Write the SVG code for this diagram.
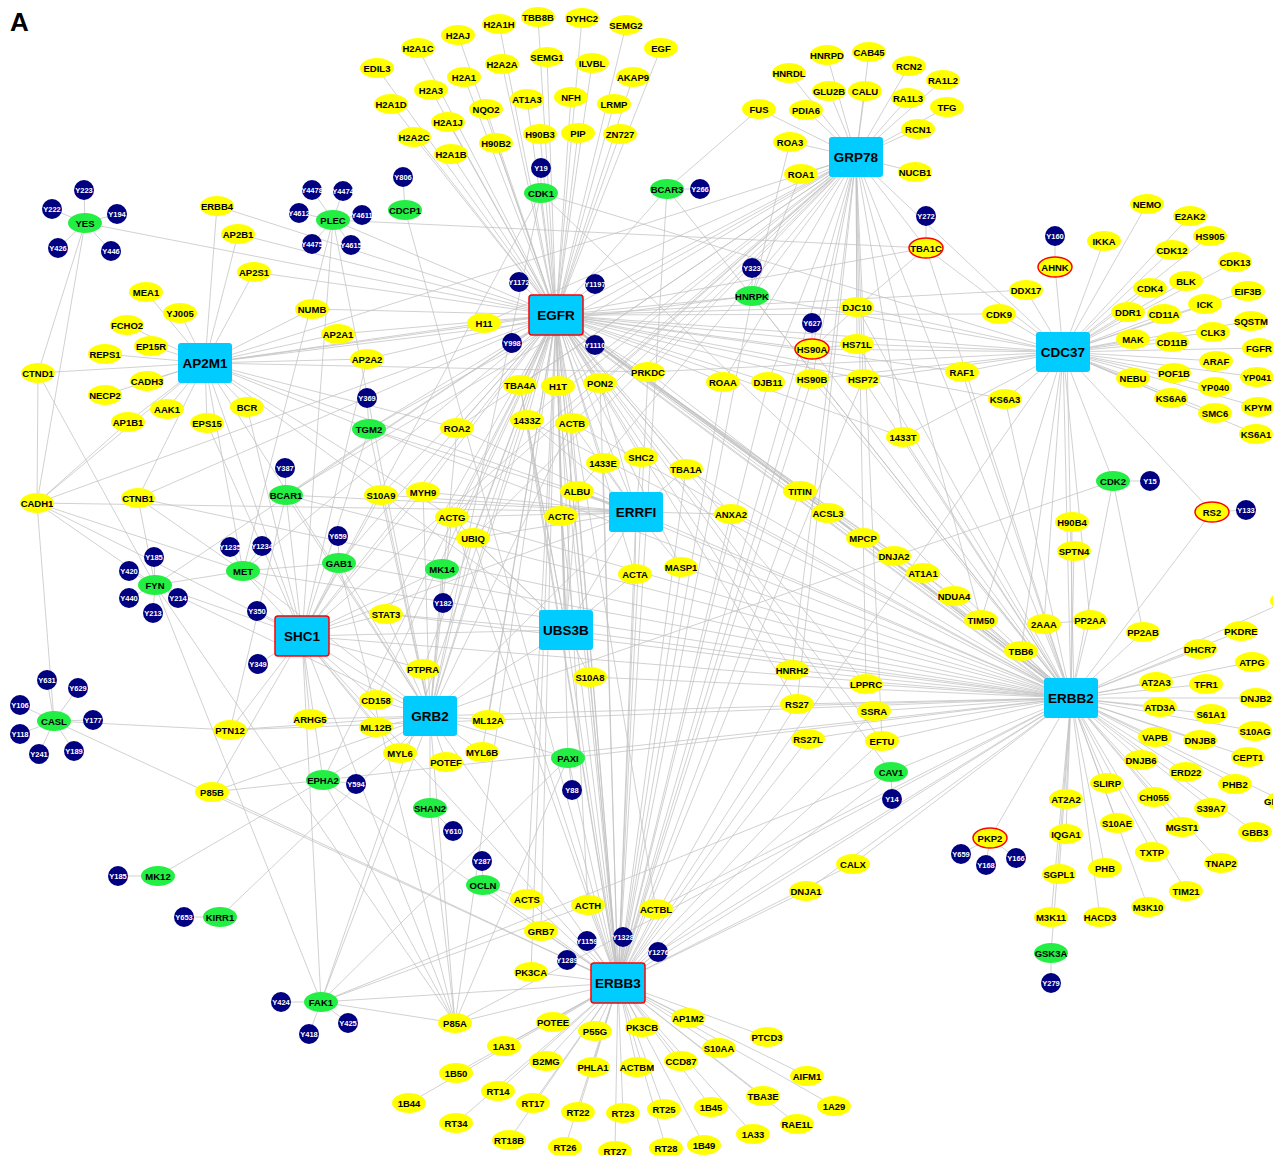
<svg xmlns="http://www.w3.org/2000/svg" width="1273" height="1155" viewBox="0 0 1273 1155">
<style>
.e{stroke:#c2c2c2;stroke-width:0.75;fill:none}
.y{fill:#ffff00}
.g{fill:#22ee44}
.b{fill:#000080}
.h{fill:#00ccff}
.r{stroke:#ff0000;stroke-width:1.5}
text{font-family:"Liberation Sans",Arial,sans-serif;font-weight:bold;text-anchor:middle;dominant-baseline:central}
.t{font-size:9.5px;fill:#000}
.tb{font-size:7.5px;fill:#fff}
.th{font-size:13.5px;fill:#000}
</style>
<rect width="1273" height="1155" fill="#fff"/>
<text x="10" y="22" style="font-size:26px;text-anchor:start;fill:#000">A</text>
<g id="connectors" class="e">
<path d="M556 315L499 24M556 315L538 17M556 315L582 18M556 315L626 25M556 315L458 35M556 315L418 48M556 315L377 68M556 315L502 64M556 315L547 57M556 315L592 63M556 315L661 48M556 315L464 77M556 315L633 77M556 315L431 90M556 315L486 109M556 315L527 99M556 315L571 97M556 315L614 104M556 315L391 104M556 315L448 122M556 315L540 134M556 315L578 133M556 315L620 134M556 315L414 137M556 315L496 143M556 315L451 154"/>
<path d="M556 315L519 282M556 315L595 284M556 315L512 343M556 315L595 345M556 315L541 193M556 315L484 323M556 315L312 309M556 315L338 334M556 315L367 359M556 315L217 206M556 315L238 234M556 315L254 272M556 315L85 223M556 315L333 220M556 315L520 385M556 315L558 386M556 315L600 383M556 315L648 372M556 315L527 420M556 315L572 423M556 315L457 428M556 315L369 429M556 315L286 495M556 315L603 463M556 315L641 457M556 315L686 469M556 315L577 491M556 315L561 516M556 315L452 517M556 315L473 538M556 315L442 569M556 315L636 512M556 315L566 630M556 315L302 636M556 315L430 716M556 315L618 983M556 315L752 296M556 315L812 349M556 315L926 248M556 315L723 382M556 315L768 382M556 315L863 379M556 315L812 379M556 315L731 514M556 315L681 567M556 315L635 574M556 315L568 758M556 315L527 899M556 315L588 905M556 315L656 909M556 315L891 772M556 315L386 614M556 315L339 563M556 315L243 571M556 315L381 495M556 315L423 492M556 315L205 363M556 315L155 585M556 315L667 189M556 315L1063 352M556 315L856 157M556 315L423 669M556 315L323 780M556 315L590 677M556 315L531 972M556 315L541 931M556 315L857 344M556 315L903 437M556 315L962 372M556 315L1005 399M556 315L376 700M556 315L792 670M556 315L797 704M556 315L866 684M556 315L882 741M556 315L138 498M556 315L37 503M556 315L1026 290M556 315L999 314M556 315L857 307M556 315L455 1023M556 315L321 1002M556 315L488 720M556 315L482 752"/>
<path d="M556 315L1071 698M558 312L1073 695M554 318L1069 701M560 313L1075 696M553 316L1068 699M556 315L800 491M556 315L828 513M556 315L863 538M556 315L894 556M556 315L923 573M556 315L954 596"/>
<path d="M856 157L827 55M856 157L869 52M856 157L789 73M856 157L829 91M856 157L865 91M856 157L909 66M856 157L943 80M856 157L908 98M856 157L947 107M856 157L759 109M856 157L806 110M856 157L918 129M856 157L790 142M856 157L801 174M856 157L915 172M856 157L926 248M856 157L857 307M856 157L857 344M856 157L863 379M856 157L812 379M856 157L812 349M856 157L752 296M856 157L768 382M856 157L723 382M856 157L648 372M856 157L558 386M856 157L520 385M856 157L572 423M856 157L527 420M856 157L457 428M856 157L577 491M856 157L1071 698M856 157L1063 352M856 157L903 437M856 157L618 983M856 157L866 684M856 157L792 670M856 157L981 620M856 157L473 538M856 157L452 517M856 157L205 363M856 157L302 636M856 157L369 429M856 157L484 323M856 157L286 495M856 157L797 704M856 157L882 741M856 157L600 383"/>
<path d="M1063 352L1055 267M1063 352L1104 241M1063 352L1147 204M1063 352L1190 216M1063 352L1210 236M1063 352L1172 250M1063 352L1235 262M1063 352L1026 290M1063 352L1150 288M1063 352L1186 281M1063 352L1248 291M1063 352L1128 312M1063 352L1164 314M1063 352L1205 304M1063 352L999 314M1063 352L1251 321M1063 352L1213 332M1063 352L1133 339M1063 352L1172 342M1063 352L1259 348M1063 352L1216 361M1063 352L1257 377M1063 352L1133 378M1063 352L1174 373M1063 352L1215 387M1063 352L1258 407M1063 352L1171 398M1063 352L1215 413M1063 352L1256 434M1063 352L962 372M1063 352L1005 399M1063 352L863 379M1063 352L812 379M1063 352L857 344M1063 352L812 349M1063 352L857 307M1063 352L1071 698M1067 352L1074 698M1063 352L1113 481M1063 352L1021 651M1063 352L1044 624M1063 352L1090 620M1063 352L903 437M1063 352L926 248M1063 352L541 193M1063 352L618 983M1063 352L1212 512M1063 352L981 620M1063 352L752 296M1063 352L648 372"/>
<path d="M1071 698L1072 522M1071 698L1074 551M1071 698L1044 624M1071 698L1090 620M1071 698L1143 632M1071 698L1021 651M1071 698L1241 631M1071 698L1200 649M1071 698L1252 662M1071 698L1156 682M1071 698L1206 684M1071 698L1256 698M1071 698L1160 707M1071 698L1211 714M1071 698L1255 731M1071 698L1155 737M1071 698L1200 740M1071 698L1248 757M1071 698L1141 760M1071 698L1186 772M1071 698L1235 784M1071 698L1283 801M1071 698L1107 783M1071 698L1066 799M1071 698L1154 797M1071 698L1211 808M1071 698L1117 823M1071 698L1182 827M1071 698L1255 832M1071 698L1066 834M1071 698L1152 852M1071 698L1221 863M1071 698L1105 868M1071 698L1059 874M1071 698L1186 891M1071 698L1148 907M1071 698L1051 917M1071 698L1100 917M1071 698L1051 953M1071 698L990 838M1071 698L1113 481M1071 698L1212 512M1071 698L1287 601M1071 698L981 620M1071 698L954 596M1071 698L923 573M1071 698L894 556M1071 698L863 538M1071 698L828 513M1071 698L800 491M1071 698L866 684M1071 698L797 704M1071 698L874 711M1071 698L882 741M1071 698L792 670M1071 698L808 739M1071 698L891 772M1071 698L853 864M1071 698L806 891M1071 698L618 983M1071 698L566 630M1071 698L430 716M1071 698L302 636M1071 698L636 512M1071 698L903 437M1071 698L863 379M1071 698L812 379M1071 698L857 307M1071 698L857 344M1071 698L1005 399M1071 698L962 372M1071 698L752 296M1071 698L812 349M1071 698L926 248M1071 698L572 423M1071 698L648 372M1071 698L681 567M1071 698L731 514M1071 698L590 677M1071 698L568 758M1071 698L527 420M1071 698L452 517M1071 698L686 469M1071 698L577 491M1071 698L243 571M1071 698L339 563M1071 698L286 495M1071 698L369 429M1071 698L386 614M1071 698L138 498M1071 698L323 780M1071 698L658 952M1071 698L656 909M1071 698L541 193M1071 698L667 189M1071 698L455 1023M1071 698L230 730"/>
<path d="M618 983L553 1022M618 983L595 1031M618 983L642 1027M618 983L688 1018M618 983L767 1037M618 983L504 1046M618 983L546 1061M618 983L593 1067M618 983L637 1067M618 983L681 1061M618 983L719 1048M618 983L807 1076M618 983L456 1073M618 983L498 1091M618 983L533 1103M618 983L578 1112M618 983L623 1113M618 983L664 1109M618 983L711 1107M618 983L763 1096M618 983L797 1124M618 983L834 1106M618 983L753 1134M618 983L409 1103M618 983L456 1123M618 983L509 1140M618 983L565 1147M618 983L615 1151M618 983L666 1148M618 983L704 1145M618 983L531 972M618 983L455 1023M618 983L321 1002M618 983L541 931M618 983L587 941M618 983L623 937M618 983L567 960M618 983L658 952M618 983L527 899M618 983L588 905M618 983L656 909M618 983L568 758M618 983L430 716M618 983L302 636M618 983L891 772M618 983L806 891M618 983L853 864M618 983L566 630M618 983L636 512M618 983L863 379M618 983L752 296M618 983L667 189M618 983L212 792M618 983L452 517M618 983L572 423M618 983L561 516M618 983L577 491M618 983L527 420M618 983L603 463M618 983L686 469M618 983L590 677M618 983L473 538M618 983L812 379M618 983L812 349M618 983L723 382M618 983L648 372M618 983L681 567M618 983L731 514M618 983L797 704M618 983L882 741M618 983L54 721M618 983L483 885M618 983L405 210M618 983L323 780M618 983L635 574M618 983L558 386M618 983L600 383M618 983L520 385M618 983L808 739M618 983L792 670M618 983L874 711M618 983L800 491M618 983L768 382"/>
<path d="M205 363L217 206M205 363L238 234M205 363L254 272M205 363L146 292M205 363L180 313M205 363L127 325M205 363L151 346M205 363L105 354M205 363L38 373M205 363L147 381M205 363L105 395M205 363L167 409M205 363L128 422M205 363L207 423M205 363L247 407M205 363L312 309M205 363L338 334M205 363L367 359M205 363L484 323M205 363L302 636M205 363L430 716M205 363L369 429M205 363L457 428M205 363L636 512M205 363L566 630M205 363L138 498M205 363L452 517M205 363L37 503M205 363L243 571M205 363L752 296M205 363L648 372"/>
<path d="M302 636L257 611M302 636L258 664M302 636L230 730M302 636L310 719M302 636L323 780M302 636L321 1002M302 636L430 716M302 636L243 571M302 636L339 563M302 636L286 495M302 636L369 429M302 636L386 614M302 636L376 700M302 636L155 585M302 636L636 512M302 636L566 630M302 636L423 669M302 636L442 569M302 636L541 193M302 636L455 1023M302 636L212 792M302 636L423 492M302 636L381 495M302 636L376 727M302 636L400 753M302 636L333 220M302 636L367 359M302 636L247 407M302 636L207 423M302 636L37 503"/>
<path d="M430 716L376 700M430 716L376 727M430 716L400 753M430 716L446 762M430 716L482 752M430 716L488 720M430 716L423 669M430 716L386 614M430 716L442 569M430 716L339 563M430 716L452 517M430 716L423 492M430 716L381 495M430 716L323 780M430 716L430 808M430 716L455 1023M430 716L212 792M430 716L321 1002M430 716L243 571M430 716L568 758M430 716L566 630M430 716L636 512M430 716L286 495M430 716L310 719M430 716L369 429M430 716L457 428M430 716L541 193M430 716L220 917M430 716L1113 481M430 716L473 538M430 716L230 730M430 716L527 420M430 716L572 423M430 716L333 220M430 716L155 585"/>
<path d="M636 512L603 463M636 512L641 457M636 512L577 491M636 512L561 516M636 512L635 574M636 512L731 514M636 512L686 469M636 512L681 567M636 512L452 517M636 512L572 423M636 512L527 420M636 512L473 538M636 512L600 383M636 512L37 503M636 512L369 429M636 512L457 428M636 512L381 495M636 512L423 492M636 512L566 630M636 512L286 495"/>
<path d="M566 630L473 538M566 630L572 423M566 630L577 491M566 630L590 677M566 630L561 516M566 630L527 420M566 630L635 574M566 630L558 386M566 630L452 517M566 630L386 614M566 630L520 385"/>
<path d="M541 168L541 193M403 177L405 210M333 220L312 190M333 220L343 191M333 220L299 213M333 220L362 215M333 220L312 244M333 220L351 245M85 223L84 190M85 223L52 209M85 223L117 214M85 223L58 248M85 223L111 251M667 189L700 189M926 248L926 216M752 296L752 268M812 349L812 323M1055 267L1055 236M1113 481L1150 481M1212 512L1246 510M369 429L367 398M286 495L285 468M155 585L154 557M155 585L129 571M155 585L129 598M155 585L153 613M155 585L178 598M243 571L230 547M243 571L262 546M339 563L338 536M442 569L443 603M54 721L47 680M54 721L78 688M54 721L20 705M54 721L93 720M54 721L20 734M54 721L39 754M54 721L74 751M323 780L356 784M568 758L572 790M430 808L453 831M483 885L482 861M158 876L118 876M220 917L184 917M321 1002L281 1002M321 1002L309 1034M321 1002L348 1023M891 772L892 799M990 838L961 854M990 838L986 865M990 838L1016 858M1051 953L1051 983"/>
<path d="M85 223L38 373M85 223L37 503M333 220L926 248M333 220L243 571M38 373L37 503M38 373L155 585M37 503L128 422M37 503L54 721M37 503L243 571M37 503L155 585M138 498L155 585M138 498L243 571M155 585L243 571M155 585L321 1002M155 585L455 1023M339 563L455 1023M339 563L243 571M286 495L230 730M230 730L54 721M212 792L323 780M158 876L323 780M323 780L455 1023M321 1002L568 758M321 1002L455 1023M321 1002L891 772M321 1002L588 905M430 808L455 1023M568 758L455 1023M483 885L527 899M667 189L759 109M1113 481L1143 632M1044 624L1090 620M926 248L857 307M812 349L857 307M812 349L857 344M790 142L752 296M801 174L752 296"/>
</g>
<g id="nodes">
<g id="n-EGFR"><rect class="h r" x="529" y="295" width="54" height="40" rx="3"/><text class="th" x="556" y="315">EGFR</text></g>
<g id="n-GRP78"><rect class="h" x="829" y="137" width="54" height="40" rx="3"/><text class="th" x="856" y="157">GRP78</text></g>
<g id="n-AP2M1"><rect class="h" x="178" y="343" width="54" height="40" rx="3"/><text class="th" x="205" y="363">AP2M1</text></g>
<g id="n-CDC37"><rect class="h" x="1036" y="332" width="54" height="40" rx="3"/><text class="th" x="1063" y="352">CDC37</text></g>
<g id="n-ERRFI"><rect class="h" x="609" y="492" width="54" height="40" rx="3"/><text class="th" x="636" y="512">ERRFI</text></g>
<g id="n-UBS3B"><rect class="h" x="539" y="610" width="54" height="40" rx="3"/><text class="th" x="566" y="630">UBS3B</text></g>
<g id="n-SHC1"><rect class="h r" x="275" y="616" width="54" height="40" rx="3"/><text class="th" x="302" y="636">SHC1</text></g>
<g id="n-GRB2"><rect class="h" x="403" y="696" width="54" height="40" rx="3"/><text class="th" x="430" y="716">GRB2</text></g>
<g id="n-ERBB2"><rect class="h" x="1044" y="678" width="54" height="40" rx="3"/><text class="th" x="1071" y="698">ERBB2</text></g>
<g id="n-ERBB3"><rect class="h r" x="591" y="963" width="54" height="40" rx="3"/><text class="th" x="618" y="983">ERBB3</text></g>

<g id="n-H2A1H"><ellipse class="y" cx="499" cy="24" rx="17" ry="10"/><text class="t" x="499" y="24">H2A1H</text></g>
<g id="n-TBB8B"><ellipse class="y" cx="538" cy="17" rx="17" ry="10"/><text class="t" x="538" y="17">TBB8B</text></g>
<g id="n-DYHC2"><ellipse class="y" cx="582" cy="18" rx="17" ry="10"/><text class="t" x="582" y="18">DYHC2</text></g>
<g id="n-SEMG2"><ellipse class="y" cx="626" cy="25" rx="17" ry="10"/><text class="t" x="626" y="25">SEMG2</text></g>
<g id="n-H2AJ"><ellipse class="y" cx="458" cy="35" rx="17" ry="10"/><text class="t" x="458" y="35">H2AJ</text></g>
<g id="n-H2A1C"><ellipse class="y" cx="418" cy="48" rx="17" ry="10"/><text class="t" x="418" y="48">H2A1C</text></g>
<g id="n-EDIL3"><ellipse class="y" cx="377" cy="68" rx="17" ry="10"/><text class="t" x="377" y="68">EDIL3</text></g>
<g id="n-H2A2A"><ellipse class="y" cx="502" cy="64" rx="17" ry="10"/><text class="t" x="502" y="64">H2A2A</text></g>
<g id="n-SEMG1"><ellipse class="y" cx="547" cy="57" rx="17" ry="10"/><text class="t" x="547" y="57">SEMG1</text></g>
<g id="n-ILVBL"><ellipse class="y" cx="592" cy="63" rx="17" ry="10"/><text class="t" x="592" y="63">ILVBL</text></g>
<g id="n-EGF"><ellipse class="y" cx="661" cy="48" rx="17" ry="10"/><text class="t" x="661" y="48">EGF</text></g>
<g id="n-H2A1"><ellipse class="y" cx="464" cy="77" rx="17" ry="10"/><text class="t" x="464" y="77">H2A1</text></g>
<g id="n-AKAP9"><ellipse class="y" cx="633" cy="77" rx="17" ry="10"/><text class="t" x="633" y="77">AKAP9</text></g>
<g id="n-H2A3"><ellipse class="y" cx="431" cy="90" rx="17" ry="10"/><text class="t" x="431" y="90">H2A3</text></g>
<g id="n-NQO2"><ellipse class="y" cx="486" cy="109" rx="17" ry="10"/><text class="t" x="486" y="109">NQO2</text></g>
<g id="n-AT1A3"><ellipse class="y" cx="527" cy="99" rx="17" ry="10"/><text class="t" x="527" y="99">AT1A3</text></g>
<g id="n-NFH"><ellipse class="y" cx="571" cy="97" rx="17" ry="10"/><text class="t" x="571" y="97">NFH</text></g>
<g id="n-LRMP"><ellipse class="y" cx="614" cy="104" rx="17" ry="10"/><text class="t" x="614" y="104">LRMP</text></g>
<g id="n-H2A1D"><ellipse class="y" cx="391" cy="104" rx="17" ry="10"/><text class="t" x="391" y="104">H2A1D</text></g>
<g id="n-H2A1J"><ellipse class="y" cx="448" cy="122" rx="17" ry="10"/><text class="t" x="448" y="122">H2A1J</text></g>
<g id="n-H90B3"><ellipse class="y" cx="540" cy="134" rx="17" ry="10"/><text class="t" x="540" y="134">H90B3</text></g>
<g id="n-PIP"><ellipse class="y" cx="578" cy="133" rx="17" ry="10"/><text class="t" x="578" y="133">PIP</text></g>
<g id="n-ZN727"><ellipse class="y" cx="620" cy="134" rx="17" ry="10"/><text class="t" x="620" y="134">ZN727</text></g>
<g id="n-H2A2C"><ellipse class="y" cx="414" cy="137" rx="17" ry="10"/><text class="t" x="414" y="137">H2A2C</text></g>
<g id="n-H90B2"><ellipse class="y" cx="496" cy="143" rx="17" ry="10"/><text class="t" x="496" y="143">H90B2</text></g>
<g id="n-H2A1B"><ellipse class="y" cx="451" cy="154" rx="17" ry="10"/><text class="t" x="451" y="154">H2A1B</text></g>

<g id="n-ERBB4"><ellipse class="y" cx="217" cy="206" rx="17" ry="10"/><text class="t" x="217" y="206">ERBB4</text></g>
<g id="n-AP2B1"><ellipse class="y" cx="238" cy="234" rx="17" ry="10"/><text class="t" x="238" y="234">AP2B1</text></g>
<g id="n-AP2S1"><ellipse class="y" cx="254" cy="272" rx="17" ry="10"/><text class="t" x="254" y="272">AP2S1</text></g>
<g id="n-MEA1"><ellipse class="y" cx="146" cy="292" rx="17" ry="10"/><text class="t" x="146" y="292">MEA1</text></g>
<g id="n-YJ005"><ellipse class="y" cx="180" cy="313" rx="17" ry="10"/><text class="t" x="180" y="313">YJ005</text></g>
<g id="n-FCHO2"><ellipse class="y" cx="127" cy="325" rx="17" ry="10"/><text class="t" x="127" y="325">FCHO2</text></g>
<g id="n-EP15R"><ellipse class="y" cx="151" cy="346" rx="17" ry="10"/><text class="t" x="151" y="346">EP15R</text></g>
<g id="n-REPS1"><ellipse class="y" cx="105" cy="354" rx="17" ry="10"/><text class="t" x="105" y="354">REPS1</text></g>
<g id="n-CTND1"><ellipse class="y" cx="38" cy="373" rx="17" ry="10"/><text class="t" x="38" y="373">CTND1</text></g>
<g id="n-CADH3"><ellipse class="y" cx="147" cy="381" rx="17" ry="10"/><text class="t" x="147" y="381">CADH3</text></g>
<g id="n-NECP2"><ellipse class="y" cx="105" cy="395" rx="17" ry="10"/><text class="t" x="105" y="395">NECP2</text></g>
<g id="n-AAK1"><ellipse class="y" cx="167" cy="409" rx="17" ry="10"/><text class="t" x="167" y="409">AAK1</text></g>
<g id="n-AP1B1"><ellipse class="y" cx="128" cy="422" rx="17" ry="10"/><text class="t" x="128" y="422">AP1B1</text></g>
<g id="n-EPS15"><ellipse class="y" cx="207" cy="423" rx="17" ry="10"/><text class="t" x="207" y="423">EPS15</text></g>
<g id="n-BCR"><ellipse class="y" cx="247" cy="407" rx="17" ry="10"/><text class="t" x="247" y="407">BCR</text></g>
<g id="n-NUMB"><ellipse class="y" cx="312" cy="309" rx="17" ry="10"/><text class="t" x="312" y="309">NUMB</text></g>
<g id="n-AP2A1"><ellipse class="y" cx="338" cy="334" rx="17" ry="10"/><text class="t" x="338" y="334">AP2A1</text></g>
<g id="n-AP2A2"><ellipse class="y" cx="367" cy="359" rx="17" ry="10"/><text class="t" x="367" y="359">AP2A2</text></g>
<g id="n-H11"><ellipse class="y" cx="484" cy="323" rx="17" ry="10"/><text class="t" x="484" y="323">H11</text></g>

<g id="n-TBA4A"><ellipse class="y" cx="520" cy="385" rx="17" ry="10"/><text class="t" x="520" y="385">TBA4A</text></g>
<g id="n-H1T"><ellipse class="y" cx="558" cy="386" rx="17" ry="10"/><text class="t" x="558" y="386">H1T</text></g>
<g id="n-PON2"><ellipse class="y" cx="600" cy="383" rx="17" ry="10"/><text class="t" x="600" y="383">PON2</text></g>
<g id="n-PRKDC"><ellipse class="y" cx="648" cy="372" rx="17" ry="10"/><text class="t" x="648" y="372">PRKDC</text></g>
<g id="n-ROAA"><ellipse class="y" cx="723" cy="382" rx="17" ry="10"/><text class="t" x="723" y="382">ROAA</text></g>
<g id="n-DJB11"><ellipse class="y" cx="768" cy="382" rx="17" ry="10"/><text class="t" x="768" y="382">DJB11</text></g>
<g id="n-HS90B"><ellipse class="y" cx="812" cy="379" rx="17" ry="10"/><text class="t" x="812" y="379">HS90B</text></g>
<g id="n-HSP72"><ellipse class="y" cx="863" cy="379" rx="17" ry="10"/><text class="t" x="863" y="379">HSP72</text></g>
<g id="n-RAF1"><ellipse class="y" cx="962" cy="372" rx="17" ry="10"/><text class="t" x="962" y="372">RAF1</text></g>
<g id="n-ROA2"><ellipse class="y" cx="457" cy="428" rx="17" ry="10"/><text class="t" x="457" y="428">ROA2</text></g>
<g id="n-1433Z"><ellipse class="y" cx="527" cy="420" rx="17" ry="10"/><text class="t" x="527" y="420">1433Z</text></g>
<g id="n-ACTB"><ellipse class="y" cx="572" cy="423" rx="17" ry="10"/><text class="t" x="572" y="423">ACTB</text></g>
<g id="n-1433E"><ellipse class="y" cx="603" cy="463" rx="17" ry="10"/><text class="t" x="603" y="463">1433E</text></g>
<g id="n-SHC2"><ellipse class="y" cx="641" cy="457" rx="17" ry="10"/><text class="t" x="641" y="457">SHC2</text></g>
<g id="n-TBA1A"><ellipse class="y" cx="686" cy="469" rx="17" ry="10"/><text class="t" x="686" y="469">TBA1A</text></g>
<g id="n-ALBU"><ellipse class="y" cx="577" cy="491" rx="17" ry="10"/><text class="t" x="577" y="491">ALBU</text></g>
<g id="n-ACTC"><ellipse class="y" cx="561" cy="516" rx="17" ry="10"/><text class="t" x="561" y="516">ACTC</text></g>
<g id="n-ACTG"><ellipse class="y" cx="452" cy="517" rx="17" ry="10"/><text class="t" x="452" y="517">ACTG</text></g>
<g id="n-MYH9"><ellipse class="y" cx="423" cy="492" rx="17" ry="10"/><text class="t" x="423" y="492">MYH9</text></g>
<g id="n-S10A9"><ellipse class="y" cx="381" cy="495" rx="17" ry="10"/><text class="t" x="381" y="495">S10A9</text></g>
<g id="n-UBIQ"><ellipse class="y" cx="473" cy="538" rx="17" ry="10"/><text class="t" x="473" y="538">UBIQ</text></g>
<g id="n-STAT3"><ellipse class="y" cx="386" cy="614" rx="17" ry="10"/><text class="t" x="386" y="614">STAT3</text></g>
<g id="n-PTPRA"><ellipse class="y" cx="423" cy="669" rx="17" ry="10"/><text class="t" x="423" y="669">PTPRA</text></g>
<g id="n-S10A8"><ellipse class="y" cx="590" cy="677" rx="17" ry="10"/><text class="t" x="590" y="677">S10A8</text></g>
<g id="n-ACTA"><ellipse class="y" cx="635" cy="574" rx="17" ry="10"/><text class="t" x="635" y="574">ACTA</text></g>
<g id="n-MASP1"><ellipse class="y" cx="681" cy="567" rx="17" ry="10"/><text class="t" x="681" y="567">MASP1</text></g>
<g id="n-ANXA2"><ellipse class="y" cx="731" cy="514" rx="17" ry="10"/><text class="t" x="731" y="514">ANXA2</text></g>
<g id="n-CADH1"><ellipse class="y" cx="37" cy="503" rx="17" ry="10"/><text class="t" x="37" y="503">CADH1</text></g>
<g id="n-CTNB1"><ellipse class="y" cx="138" cy="498" rx="17" ry="10"/><text class="t" x="138" y="498">CTNB1</text></g>
<g id="n-PTN12"><ellipse class="y" cx="230" cy="730" rx="17" ry="10"/><text class="t" x="230" y="730">PTN12</text></g>
<g id="n-ARHG5"><ellipse class="y" cx="310" cy="719" rx="17" ry="10"/><text class="t" x="310" y="719">ARHG5</text></g>
<g id="n-CD158"><ellipse class="y" cx="376" cy="700" rx="17" ry="10"/><text class="t" x="376" y="700">CD158</text></g>
<g id="n-ML12B"><ellipse class="y" cx="376" cy="727" rx="17" ry="10"/><text class="t" x="376" y="727">ML12B</text></g>
<g id="n-MYL6"><ellipse class="y" cx="400" cy="753" rx="17" ry="10"/><text class="t" x="400" y="753">MYL6</text></g>
<g id="n-POTEF"><ellipse class="y" cx="446" cy="762" rx="17" ry="10"/><text class="t" x="446" y="762">POTEF</text></g>
<g id="n-MYL6B"><ellipse class="y" cx="482" cy="752" rx="17" ry="10"/><text class="t" x="482" y="752">MYL6B</text></g>
<g id="n-ML12A"><ellipse class="y" cx="488" cy="720" rx="17" ry="10"/><text class="t" x="488" y="720">ML12A</text></g>
<g id="n-P85B"><ellipse class="y" cx="212" cy="792" rx="17" ry="10"/><text class="t" x="212" y="792">P85B</text></g>
<g id="n-ACTS"><ellipse class="y" cx="527" cy="899" rx="17" ry="10"/><text class="t" x="527" y="899">ACTS</text></g>
<g id="n-ACTH"><ellipse class="y" cx="588" cy="905" rx="17" ry="10"/><text class="t" x="588" y="905">ACTH</text></g>
<g id="n-ACTBL"><ellipse class="y" cx="656" cy="909" rx="17" ry="10"/><text class="t" x="656" y="909">ACTBL</text></g>
<g id="n-GRB7"><ellipse class="y" cx="541" cy="931" rx="17" ry="10"/><text class="t" x="541" y="931">GRB7</text></g>
<g id="n-PK3CA"><ellipse class="y" cx="531" cy="972" rx="17" ry="10"/><text class="t" x="531" y="972">PK3CA</text></g>
<g id="n-P85A"><ellipse class="y" cx="455" cy="1023" rx="17" ry="10"/><text class="t" x="455" y="1023">P85A</text></g>

<g id="n-POTEE"><ellipse class="y" cx="553" cy="1022" rx="17" ry="10"/><text class="t" x="553" y="1022">POTEE</text></g>
<g id="n-P55G"><ellipse class="y" cx="595" cy="1031" rx="17" ry="10"/><text class="t" x="595" y="1031">P55G</text></g>
<g id="n-PK3CB"><ellipse class="y" cx="642" cy="1027" rx="17" ry="10"/><text class="t" x="642" y="1027">PK3CB</text></g>
<g id="n-AP1M2"><ellipse class="y" cx="688" cy="1018" rx="17" ry="10"/><text class="t" x="688" y="1018">AP1M2</text></g>
<g id="n-PTCD3"><ellipse class="y" cx="767" cy="1037" rx="17" ry="10"/><text class="t" x="767" y="1037">PTCD3</text></g>
<g id="n-1A31"><ellipse class="y" cx="504" cy="1046" rx="17" ry="10"/><text class="t" x="504" y="1046">1A31</text></g>
<g id="n-B2MG"><ellipse class="y" cx="546" cy="1061" rx="17" ry="10"/><text class="t" x="546" y="1061">B2MG</text></g>
<g id="n-PHLA1"><ellipse class="y" cx="593" cy="1067" rx="17" ry="10"/><text class="t" x="593" y="1067">PHLA1</text></g>
<g id="n-ACTBM"><ellipse class="y" cx="637" cy="1067" rx="17" ry="10"/><text class="t" x="637" y="1067">ACTBM</text></g>
<g id="n-CCD87"><ellipse class="y" cx="681" cy="1061" rx="17" ry="10"/><text class="t" x="681" y="1061">CCD87</text></g>
<g id="n-S10AA"><ellipse class="y" cx="719" cy="1048" rx="17" ry="10"/><text class="t" x="719" y="1048">S10AA</text></g>
<g id="n-AIFM1"><ellipse class="y" cx="807" cy="1076" rx="17" ry="10"/><text class="t" x="807" y="1076">AIFM1</text></g>
<g id="n-1B50"><ellipse class="y" cx="456" cy="1073" rx="17" ry="10"/><text class="t" x="456" y="1073">1B50</text></g>
<g id="n-RT14"><ellipse class="y" cx="498" cy="1091" rx="17" ry="10"/><text class="t" x="498" y="1091">RT14</text></g>
<g id="n-RT17"><ellipse class="y" cx="533" cy="1103" rx="17" ry="10"/><text class="t" x="533" y="1103">RT17</text></g>
<g id="n-RT22"><ellipse class="y" cx="578" cy="1112" rx="17" ry="10"/><text class="t" x="578" y="1112">RT22</text></g>
<g id="n-RT23"><ellipse class="y" cx="623" cy="1113" rx="17" ry="10"/><text class="t" x="623" y="1113">RT23</text></g>
<g id="n-RT25"><ellipse class="y" cx="664" cy="1109" rx="17" ry="10"/><text class="t" x="664" y="1109">RT25</text></g>
<g id="n-1B45"><ellipse class="y" cx="711" cy="1107" rx="17" ry="10"/><text class="t" x="711" y="1107">1B45</text></g>
<g id="n-TBA3E"><ellipse class="y" cx="763" cy="1096" rx="17" ry="10"/><text class="t" x="763" y="1096">TBA3E</text></g>
<g id="n-RAE1L"><ellipse class="y" cx="797" cy="1124" rx="17" ry="10"/><text class="t" x="797" y="1124">RAE1L</text></g>
<g id="n-1A29"><ellipse class="y" cx="834" cy="1106" rx="17" ry="10"/><text class="t" x="834" y="1106">1A29</text></g>
<g id="n-1A33"><ellipse class="y" cx="753" cy="1134" rx="17" ry="10"/><text class="t" x="753" y="1134">1A33</text></g>
<g id="n-1B44"><ellipse class="y" cx="409" cy="1103" rx="17" ry="10"/><text class="t" x="409" y="1103">1B44</text></g>
<g id="n-RT34"><ellipse class="y" cx="456" cy="1123" rx="17" ry="10"/><text class="t" x="456" y="1123">RT34</text></g>
<g id="n-RT18B"><ellipse class="y" cx="509" cy="1140" rx="17" ry="10"/><text class="t" x="509" y="1140">RT18B</text></g>
<g id="n-RT26"><ellipse class="y" cx="565" cy="1147" rx="17" ry="10"/><text class="t" x="565" y="1147">RT26</text></g>
<g id="n-RT27"><ellipse class="y" cx="615" cy="1151" rx="17" ry="10"/><text class="t" x="615" y="1151">RT27</text></g>
<g id="n-RT28"><ellipse class="y" cx="666" cy="1148" rx="17" ry="10"/><text class="t" x="666" y="1148">RT28</text></g>
<g id="n-1B49"><ellipse class="y" cx="704" cy="1145" rx="17" ry="10"/><text class="t" x="704" y="1145">1B49</text></g>

<g id="n-HNRPD"><ellipse class="y" cx="827" cy="55" rx="17" ry="10"/><text class="t" x="827" y="55">HNRPD</text></g>
<g id="n-CAB45"><ellipse class="y" cx="869" cy="52" rx="17" ry="10"/><text class="t" x="869" y="52">CAB45</text></g>
<g id="n-HNRDL"><ellipse class="y" cx="789" cy="73" rx="17" ry="10"/><text class="t" x="789" y="73">HNRDL</text></g>
<g id="n-GLU2B"><ellipse class="y" cx="829" cy="91" rx="17" ry="10"/><text class="t" x="829" y="91">GLU2B</text></g>
<g id="n-CALU"><ellipse class="y" cx="865" cy="91" rx="17" ry="10"/><text class="t" x="865" y="91">CALU</text></g>
<g id="n-RCN2"><ellipse class="y" cx="909" cy="66" rx="17" ry="10"/><text class="t" x="909" y="66">RCN2</text></g>
<g id="n-RA1L2"><ellipse class="y" cx="943" cy="80" rx="17" ry="10"/><text class="t" x="943" y="80">RA1L2</text></g>
<g id="n-RA1L3"><ellipse class="y" cx="908" cy="98" rx="17" ry="10"/><text class="t" x="908" y="98">RA1L3</text></g>
<g id="n-TFG"><ellipse class="y" cx="947" cy="107" rx="17" ry="10"/><text class="t" x="947" y="107">TFG</text></g>
<g id="n-FUS"><ellipse class="y" cx="759" cy="109" rx="17" ry="10"/><text class="t" x="759" y="109">FUS</text></g>
<g id="n-PDIA6"><ellipse class="y" cx="806" cy="110" rx="17" ry="10"/><text class="t" x="806" y="110">PDIA6</text></g>
<g id="n-RCN1"><ellipse class="y" cx="918" cy="129" rx="17" ry="10"/><text class="t" x="918" y="129">RCN1</text></g>
<g id="n-ROA3"><ellipse class="y" cx="790" cy="142" rx="17" ry="10"/><text class="t" x="790" y="142">ROA3</text></g>
<g id="n-ROA1"><ellipse class="y" cx="801" cy="174" rx="17" ry="10"/><text class="t" x="801" y="174">ROA1</text></g>
<g id="n-NUCB1"><ellipse class="y" cx="915" cy="172" rx="17" ry="10"/><text class="t" x="915" y="172">NUCB1</text></g>
<g id="n-DJC10"><ellipse class="y" cx="857" cy="307" rx="17" ry="10"/><text class="t" x="857" y="307">DJC10</text></g>
<g id="n-HS71L"><ellipse class="y" cx="857" cy="344" rx="17" ry="10"/><text class="t" x="857" y="344">HS71L</text></g>
<g id="n-1433T"><ellipse class="y" cx="903" cy="437" rx="17" ry="10"/><text class="t" x="903" y="437">1433T</text></g>
<g id="n-TITIN"><ellipse class="y" cx="800" cy="491" rx="17" ry="10"/><text class="t" x="800" y="491">TITIN</text></g>
<g id="n-ACSL3"><ellipse class="y" cx="828" cy="513" rx="17" ry="10"/><text class="t" x="828" y="513">ACSL3</text></g>
<g id="n-MPCP"><ellipse class="y" cx="863" cy="538" rx="17" ry="10"/><text class="t" x="863" y="538">MPCP</text></g>
<g id="n-DNJA2"><ellipse class="y" cx="894" cy="556" rx="17" ry="10"/><text class="t" x="894" y="556">DNJA2</text></g>
<g id="n-AT1A1"><ellipse class="y" cx="923" cy="573" rx="17" ry="10"/><text class="t" x="923" y="573">AT1A1</text></g>
<g id="n-NDUA4"><ellipse class="y" cx="954" cy="596" rx="17" ry="10"/><text class="t" x="954" y="596">NDUA4</text></g>
<g id="n-TIM50"><ellipse class="y" cx="981" cy="620" rx="17" ry="10"/><text class="t" x="981" y="620">TIM50</text></g>
<g id="n-KS6A3"><ellipse class="y" cx="1005" cy="399" rx="17" ry="10"/><text class="t" x="1005" y="399">KS6A3</text></g>
<g id="n-TBA1C"><ellipse class="y r" cx="926" cy="248" rx="17" ry="10"/><text class="t" x="926" y="248">TBA1C</text></g>
<g id="n-HS90A"><ellipse class="y r" cx="812" cy="349" rx="17" ry="10"/><text class="t" x="812" y="349">HS90A</text></g>
<g id="n-AHNK"><ellipse class="y r" cx="1055" cy="267" rx="17" ry="10"/><text class="t" x="1055" y="267">AHNK</text></g>
<g id="n-RS2"><ellipse class="y r" cx="1212" cy="512" rx="17" ry="10"/><text class="t" x="1212" y="512">RS2</text></g>
<g id="n-PKP2"><ellipse class="y r" cx="990" cy="838" rx="17" ry="10"/><text class="t" x="990" y="838">PKP2</text></g>

<g id="n-IKKA"><ellipse class="y" cx="1104" cy="241" rx="17" ry="10"/><text class="t" x="1104" y="241">IKKA</text></g>
<g id="n-NEMO"><ellipse class="y" cx="1147" cy="204" rx="17" ry="10"/><text class="t" x="1147" y="204">NEMO</text></g>
<g id="n-E2AK2"><ellipse class="y" cx="1190" cy="216" rx="17" ry="10"/><text class="t" x="1190" y="216">E2AK2</text></g>
<g id="n-HS905"><ellipse class="y" cx="1210" cy="236" rx="17" ry="10"/><text class="t" x="1210" y="236">HS905</text></g>
<g id="n-CDK12"><ellipse class="y" cx="1172" cy="250" rx="17" ry="10"/><text class="t" x="1172" y="250">CDK12</text></g>
<g id="n-CDK13"><ellipse class="y" cx="1235" cy="262" rx="17" ry="10"/><text class="t" x="1235" y="262">CDK13</text></g>
<g id="n-DDX17"><ellipse class="y" cx="1026" cy="290" rx="17" ry="10"/><text class="t" x="1026" y="290">DDX17</text></g>
<g id="n-CDK4"><ellipse class="y" cx="1150" cy="288" rx="17" ry="10"/><text class="t" x="1150" y="288">CDK4</text></g>
<g id="n-BLK"><ellipse class="y" cx="1186" cy="281" rx="17" ry="10"/><text class="t" x="1186" y="281">BLK</text></g>
<g id="n-EIF3B"><ellipse class="y" cx="1248" cy="291" rx="17" ry="10"/><text class="t" x="1248" y="291">EIF3B</text></g>
<g id="n-DDR1"><ellipse class="y" cx="1128" cy="312" rx="17" ry="10"/><text class="t" x="1128" y="312">DDR1</text></g>
<g id="n-CD11A"><ellipse class="y" cx="1164" cy="314" rx="17" ry="10"/><text class="t" x="1164" y="314">CD11A</text></g>
<g id="n-ICK"><ellipse class="y" cx="1205" cy="304" rx="17" ry="10"/><text class="t" x="1205" y="304">ICK</text></g>
<g id="n-CDK9"><ellipse class="y" cx="999" cy="314" rx="17" ry="10"/><text class="t" x="999" y="314">CDK9</text></g>
<g id="n-SQSTM"><ellipse class="y" cx="1251" cy="321" rx="17" ry="10"/><text class="t" x="1251" y="321">SQSTM</text></g>
<g id="n-CLK3"><ellipse class="y" cx="1213" cy="332" rx="17" ry="10"/><text class="t" x="1213" y="332">CLK3</text></g>
<g id="n-MAK"><ellipse class="y" cx="1133" cy="339" rx="17" ry="10"/><text class="t" x="1133" y="339">MAK</text></g>
<g id="n-CD11B"><ellipse class="y" cx="1172" cy="342" rx="17" ry="10"/><text class="t" x="1172" y="342">CD11B</text></g>
<g id="n-FGFR"><ellipse class="y" cx="1259" cy="348" rx="17" ry="10"/><text class="t" x="1259" y="348">FGFR</text></g>
<g id="n-ARAF"><ellipse class="y" cx="1216" cy="361" rx="17" ry="10"/><text class="t" x="1216" y="361">ARAF</text></g>
<g id="n-YP041"><ellipse class="y" cx="1257" cy="377" rx="17" ry="10"/><text class="t" x="1257" y="377">YP041</text></g>
<g id="n-NEBU"><ellipse class="y" cx="1133" cy="378" rx="17" ry="10"/><text class="t" x="1133" y="378">NEBU</text></g>
<g id="n-POF1B"><ellipse class="y" cx="1174" cy="373" rx="17" ry="10"/><text class="t" x="1174" y="373">POF1B</text></g>
<g id="n-YP040"><ellipse class="y" cx="1215" cy="387" rx="17" ry="10"/><text class="t" x="1215" y="387">YP040</text></g>
<g id="n-KPYM"><ellipse class="y" cx="1258" cy="407" rx="17" ry="10"/><text class="t" x="1258" y="407">KPYM</text></g>
<g id="n-KS6A6"><ellipse class="y" cx="1171" cy="398" rx="17" ry="10"/><text class="t" x="1171" y="398">KS6A6</text></g>
<g id="n-SMC6"><ellipse class="y" cx="1215" cy="413" rx="17" ry="10"/><text class="t" x="1215" y="413">SMC6</text></g>
<g id="n-KS6A1"><ellipse class="y" cx="1256" cy="434" rx="17" ry="10"/><text class="t" x="1256" y="434">KS6A1</text></g>

<g id="n-H90B4"><ellipse class="y" cx="1072" cy="522" rx="17" ry="10"/><text class="t" x="1072" y="522">H90B4</text></g>
<g id="n-SPTN4"><ellipse class="y" cx="1074" cy="551" rx="17" ry="10"/><text class="t" x="1074" y="551">SPTN4</text></g>
<g id="n-2AAA"><ellipse class="y" cx="1044" cy="624" rx="17" ry="10"/><text class="t" x="1044" y="624">2AAA</text></g>
<g id="n-PP2AA"><ellipse class="y" cx="1090" cy="620" rx="17" ry="10"/><text class="t" x="1090" y="620">PP2AA</text></g>
<g id="n-PP2AB"><ellipse class="y" cx="1143" cy="632" rx="17" ry="10"/><text class="t" x="1143" y="632">PP2AB</text></g>
<g id="n-TBB6"><ellipse class="y" cx="1021" cy="651" rx="17" ry="10"/><text class="t" x="1021" y="651">TBB6</text></g>
<g id="n-PKDRE"><ellipse class="y" cx="1241" cy="631" rx="17" ry="10"/><text class="t" x="1241" y="631">PKDRE</text></g>
<g id="n-DHCR7"><ellipse class="y" cx="1200" cy="649" rx="17" ry="10"/><text class="t" x="1200" y="649">DHCR7</text></g>
<g id="n-ATPG"><ellipse class="y" cx="1252" cy="662" rx="17" ry="10"/><text class="t" x="1252" y="662">ATPG</text></g>
<g id="n-AT2A3"><ellipse class="y" cx="1156" cy="682" rx="17" ry="10"/><text class="t" x="1156" y="682">AT2A3</text></g>
<g id="n-TFR1"><ellipse class="y" cx="1206" cy="684" rx="17" ry="10"/><text class="t" x="1206" y="684">TFR1</text></g>
<g id="n-DNJB2"><ellipse class="y" cx="1256" cy="698" rx="17" ry="10"/><text class="t" x="1256" y="698">DNJB2</text></g>
<g id="n-ATD3A"><ellipse class="y" cx="1160" cy="707" rx="17" ry="10"/><text class="t" x="1160" y="707">ATD3A</text></g>
<g id="n-S61A1"><ellipse class="y" cx="1211" cy="714" rx="17" ry="10"/><text class="t" x="1211" y="714">S61A1</text></g>
<g id="n-S10AG"><ellipse class="y" cx="1255" cy="731" rx="17" ry="10"/><text class="t" x="1255" y="731">S10AG</text></g>
<g id="n-VAPB"><ellipse class="y" cx="1155" cy="737" rx="17" ry="10"/><text class="t" x="1155" y="737">VAPB</text></g>
<g id="n-DNJB8"><ellipse class="y" cx="1200" cy="740" rx="17" ry="10"/><text class="t" x="1200" y="740">DNJB8</text></g>
<g id="n-CEPT1"><ellipse class="y" cx="1248" cy="757" rx="17" ry="10"/><text class="t" x="1248" y="757">CEPT1</text></g>
<g id="n-DNJB6"><ellipse class="y" cx="1141" cy="760" rx="17" ry="10"/><text class="t" x="1141" y="760">DNJB6</text></g>
<g id="n-ERD22"><ellipse class="y" cx="1186" cy="772" rx="17" ry="10"/><text class="t" x="1186" y="772">ERD22</text></g>
<g id="n-PHB2"><ellipse class="y" cx="1235" cy="784" rx="17" ry="10"/><text class="t" x="1235" y="784">PHB2</text></g>
<g id="n-GI"><ellipse class="y" cx="1283" cy="801" rx="17" ry="10"/><text class="t" x="1264" y="801" style="text-anchor:start">GI</text></g>
<g id="n-PX"><ellipse class="y" cx="1287" cy="601" rx="17" ry="10"/></g>
<g id="n-SLIRP"><ellipse class="y" cx="1107" cy="783" rx="17" ry="10"/><text class="t" x="1107" y="783">SLIRP</text></g>
<g id="n-AT2A2"><ellipse class="y" cx="1066" cy="799" rx="17" ry="10"/><text class="t" x="1066" y="799">AT2A2</text></g>
<g id="n-CH055"><ellipse class="y" cx="1154" cy="797" rx="17" ry="10"/><text class="t" x="1154" y="797">CH055</text></g>
<g id="n-S39A7"><ellipse class="y" cx="1211" cy="808" rx="17" ry="10"/><text class="t" x="1211" y="808">S39A7</text></g>
<g id="n-S10AE"><ellipse class="y" cx="1117" cy="823" rx="17" ry="10"/><text class="t" x="1117" y="823">S10AE</text></g>
<g id="n-MGST1"><ellipse class="y" cx="1182" cy="827" rx="17" ry="10"/><text class="t" x="1182" y="827">MGST1</text></g>
<g id="n-GBB3"><ellipse class="y" cx="1255" cy="832" rx="17" ry="10"/><text class="t" x="1255" y="832">GBB3</text></g>
<g id="n-IQGA1"><ellipse class="y" cx="1066" cy="834" rx="17" ry="10"/><text class="t" x="1066" y="834">IQGA1</text></g>
<g id="n-TXTP"><ellipse class="y" cx="1152" cy="852" rx="17" ry="10"/><text class="t" x="1152" y="852">TXTP</text></g>
<g id="n-TNAP2"><ellipse class="y" cx="1221" cy="863" rx="17" ry="10"/><text class="t" x="1221" y="863">TNAP2</text></g>
<g id="n-PHB"><ellipse class="y" cx="1105" cy="868" rx="17" ry="10"/><text class="t" x="1105" y="868">PHB</text></g>
<g id="n-SGPL1"><ellipse class="y" cx="1059" cy="874" rx="17" ry="10"/><text class="t" x="1059" y="874">SGPL1</text></g>
<g id="n-TIM21"><ellipse class="y" cx="1186" cy="891" rx="17" ry="10"/><text class="t" x="1186" y="891">TIM21</text></g>
<g id="n-M3K10"><ellipse class="y" cx="1148" cy="907" rx="17" ry="10"/><text class="t" x="1148" y="907">M3K10</text></g>
<g id="n-M3K11"><ellipse class="y" cx="1051" cy="917" rx="17" ry="10"/><text class="t" x="1051" y="917">M3K11</text></g>
<g id="n-HACD3"><ellipse class="y" cx="1100" cy="917" rx="17" ry="10"/><text class="t" x="1100" y="917">HACD3</text></g>
<g id="n-HNRH2"><ellipse class="y" cx="792" cy="670" rx="17" ry="10"/><text class="t" x="792" y="670">HNRH2</text></g>
<g id="n-LPPRC"><ellipse class="y" cx="866" cy="684" rx="17" ry="10"/><text class="t" x="866" y="684">LPPRC</text></g>
<g id="n-RS27"><ellipse class="y" cx="797" cy="704" rx="17" ry="10"/><text class="t" x="797" y="704">RS27</text></g>
<g id="n-SSRA"><ellipse class="y" cx="874" cy="711" rx="17" ry="10"/><text class="t" x="874" y="711">SSRA</text></g>
<g id="n-RS27L"><ellipse class="y" cx="808" cy="739" rx="17" ry="10"/><text class="t" x="808" y="739">RS27L</text></g>
<g id="n-EFTU"><ellipse class="y" cx="882" cy="741" rx="17" ry="10"/><text class="t" x="882" y="741">EFTU</text></g>
<g id="n-CALX"><ellipse class="y" cx="853" cy="864" rx="17" ry="10"/><text class="t" x="853" y="864">CALX</text></g>
<g id="n-DNJA1"><ellipse class="y" cx="806" cy="891" rx="17" ry="10"/><text class="t" x="806" y="891">DNJA1</text></g>

<g id="n-CDK1"><ellipse class="g" cx="541" cy="193" rx="17" ry="10"/><text class="t" x="541" y="193">CDK1</text></g>
<g id="n-CDCP1"><ellipse class="g" cx="405" cy="210" rx="17" ry="10"/><text class="t" x="405" y="210">CDCP1</text></g>
<g id="n-PLEC"><ellipse class="g" cx="333" cy="220" rx="17" ry="10"/><text class="t" x="333" y="220">PLEC</text></g>
<g id="n-YES"><ellipse class="g" cx="85" cy="223" rx="17" ry="10"/><text class="t" x="85" y="223">YES</text></g>
<g id="n-BCAR3"><ellipse class="g" cx="667" cy="189" rx="17" ry="10"/><text class="t" x="667" y="189">BCAR3</text></g>
<g id="n-HNRPK"><ellipse class="g" cx="752" cy="296" rx="17" ry="10"/><text class="t" x="752" y="296">HNRPK</text></g>
<g id="n-TGM2"><ellipse class="g" cx="369" cy="429" rx="17" ry="10"/><text class="t" x="369" y="429">TGM2</text></g>
<g id="n-BCAR1"><ellipse class="g" cx="286" cy="495" rx="17" ry="10"/><text class="t" x="286" y="495">BCAR1</text></g>
<g id="n-FYN"><ellipse class="g" cx="155" cy="585" rx="17" ry="10"/><text class="t" x="155" y="585">FYN</text></g>
<g id="n-MET"><ellipse class="g" cx="243" cy="571" rx="17" ry="10"/><text class="t" x="243" y="571">MET</text></g>
<g id="n-GAB1"><ellipse class="g" cx="339" cy="563" rx="17" ry="10"/><text class="t" x="339" y="563">GAB1</text></g>
<g id="n-MK14"><ellipse class="g" cx="442" cy="569" rx="17" ry="10"/><text class="t" x="442" y="569">MK14</text></g>
<g id="n-CASL"><ellipse class="g" cx="54" cy="721" rx="17" ry="10"/><text class="t" x="54" y="721">CASL</text></g>
<g id="n-EPHA2"><ellipse class="g" cx="323" cy="780" rx="17" ry="10"/><text class="t" x="323" y="780">EPHA2</text></g>
<g id="n-PAXI"><ellipse class="g" cx="568" cy="758" rx="17" ry="10"/><text class="t" x="568" y="758">PAXI</text></g>
<g id="n-SHAN2"><ellipse class="g" cx="430" cy="808" rx="17" ry="10"/><text class="t" x="430" y="808">SHAN2</text></g>
<g id="n-OCLN"><ellipse class="g" cx="483" cy="885" rx="17" ry="10"/><text class="t" x="483" y="885">OCLN</text></g>
<g id="n-MK12"><ellipse class="g" cx="158" cy="876" rx="17" ry="10"/><text class="t" x="158" y="876">MK12</text></g>
<g id="n-KIRR1"><ellipse class="g" cx="220" cy="917" rx="17" ry="10"/><text class="t" x="220" y="917">KIRR1</text></g>
<g id="n-FAK1"><ellipse class="g" cx="321" cy="1002" rx="17" ry="10"/><text class="t" x="321" y="1002">FAK1</text></g>
<g id="n-CDK2"><ellipse class="g" cx="1113" cy="481" rx="17" ry="10"/><text class="t" x="1113" y="481">CDK2</text></g>
<g id="n-CAV1"><ellipse class="g" cx="891" cy="772" rx="17" ry="10"/><text class="t" x="891" y="772">CAV1</text></g>
<g id="n-GSK3A"><ellipse class="g" cx="1051" cy="953" rx="17" ry="10"/><text class="t" x="1051" y="953">GSK3A</text></g>

<g id="n-Y19"><circle class="b" cx="541" cy="168" r="10"/><text class="tb" x="541" y="168">Y19</text></g>
<g id="n-Y806"><circle class="b" cx="403" cy="177" r="10"/><text class="tb" x="403" y="177">Y806</text></g>
<g id="n-Y4478"><circle class="b" cx="312" cy="190" r="10"/><text class="tb" x="312" y="190">Y4478</text></g>
<g id="n-Y4474"><circle class="b" cx="343" cy="191" r="10"/><text class="tb" x="343" y="191">Y4474</text></g>
<g id="n-Y4612"><circle class="b" cx="299" cy="213" r="10"/><text class="tb" x="299" y="213">Y4612</text></g>
<g id="n-Y4611"><circle class="b" cx="362" cy="215" r="10"/><text class="tb" x="362" y="215">Y4611</text></g>
<g id="n-Y4475"><circle class="b" cx="312" cy="244" r="10"/><text class="tb" x="312" y="244">Y4475</text></g>
<g id="n-Y4615"><circle class="b" cx="351" cy="245" r="10"/><text class="tb" x="351" y="245">Y4615</text></g>
<g id="n-Y223"><circle class="b" cx="84" cy="190" r="10"/><text class="tb" x="84" y="190">Y223</text></g>
<g id="n-Y222"><circle class="b" cx="52" cy="209" r="10"/><text class="tb" x="52" y="209">Y222</text></g>
<g id="n-Y194"><circle class="b" cx="117" cy="214" r="10"/><text class="tb" x="117" y="214">Y194</text></g>
<g id="n-Y426"><circle class="b" cx="58" cy="248" r="10"/><text class="tb" x="58" y="248">Y426</text></g>
<g id="n-Y446"><circle class="b" cx="111" cy="251" r="10"/><text class="tb" x="111" y="251">Y446</text></g>
<g id="n-Y266"><circle class="b" cx="700" cy="189" r="10"/><text class="tb" x="700" y="189">Y266</text></g>
<g id="n-Y272"><circle class="b" cx="926" cy="216" r="10"/><text class="tb" x="926" y="216">Y272</text></g>
<g id="n-Y323"><circle class="b" cx="752" cy="268" r="10"/><text class="tb" x="752" y="268">Y323</text></g>
<g id="n-Y627"><circle class="b" cx="812" cy="323" r="10"/><text class="tb" x="812" y="323">Y627</text></g>
<g id="n-Y160"><circle class="b" cx="1055" cy="236" r="10"/><text class="tb" x="1055" y="236">Y160</text></g>
<g id="n-Y1172"><circle class="b" cx="519" cy="282" r="10"/><text class="tb" x="519" y="282">Y1172</text></g>
<g id="n-Y1197"><circle class="b" cx="595" cy="284" r="10"/><text class="tb" x="595" y="284">Y1197</text></g>
<g id="n-Y998"><circle class="b" cx="512" cy="343" r="10"/><text class="tb" x="512" y="343">Y998</text></g>
<g id="n-Y1110"><circle class="b" cx="595" cy="345" r="10"/><text class="tb" x="595" y="345">Y1110</text></g>
<g id="n-Y369"><circle class="b" cx="367" cy="398" r="10"/><text class="tb" x="367" y="398">Y369</text></g>
<g id="n-Y387"><circle class="b" cx="285" cy="468" r="10"/><text class="tb" x="285" y="468">Y387</text></g>
<g id="n-Y185-FYN"><circle class="b" cx="154" cy="557" r="10"/><text class="tb" x="154" y="557">Y185</text></g>
<g id="n-Y420"><circle class="b" cx="129" cy="571" r="10"/><text class="tb" x="129" y="571">Y420</text></g>
<g id="n-Y440"><circle class="b" cx="129" cy="598" r="10"/><text class="tb" x="129" y="598">Y440</text></g>
<g id="n-Y213"><circle class="b" cx="153" cy="613" r="10"/><text class="tb" x="153" y="613">Y213</text></g>
<g id="n-Y214"><circle class="b" cx="178" cy="598" r="10"/><text class="tb" x="178" y="598">Y214</text></g>
<g id="n-Y1235"><circle class="b" cx="230" cy="547" r="10"/><text class="tb" x="230" y="547">Y1235</text></g>
<g id="n-Y1234"><circle class="b" cx="262" cy="546" r="10"/><text class="tb" x="262" y="546">Y1234</text></g>
<g id="n-Y659-GAB1"><circle class="b" cx="338" cy="536" r="10"/><text class="tb" x="338" y="536">Y659</text></g>
<g id="n-Y182"><circle class="b" cx="443" cy="603" r="10"/><text class="tb" x="443" y="603">Y182</text></g>
<g id="n-Y350"><circle class="b" cx="257" cy="611" r="10"/><text class="tb" x="257" y="611">Y350</text></g>
<g id="n-Y349"><circle class="b" cx="258" cy="664" r="10"/><text class="tb" x="258" y="664">Y349</text></g>
<g id="n-Y631"><circle class="b" cx="47" cy="680" r="10"/><text class="tb" x="47" y="680">Y631</text></g>
<g id="n-Y629"><circle class="b" cx="78" cy="688" r="10"/><text class="tb" x="78" y="688">Y629</text></g>
<g id="n-Y106"><circle class="b" cx="20" cy="705" r="10"/><text class="tb" x="20" y="705">Y106</text></g>
<g id="n-Y177"><circle class="b" cx="93" cy="720" r="10"/><text class="tb" x="93" y="720">Y177</text></g>
<g id="n-Y118"><circle class="b" cx="20" cy="734" r="10"/><text class="tb" x="20" y="734">Y118</text></g>
<g id="n-Y241"><circle class="b" cx="39" cy="754" r="10"/><text class="tb" x="39" y="754">Y241</text></g>
<g id="n-Y189"><circle class="b" cx="74" cy="751" r="10"/><text class="tb" x="74" y="751">Y189</text></g>
<g id="n-Y594"><circle class="b" cx="356" cy="784" r="10"/><text class="tb" x="356" y="784">Y594</text></g>
<g id="n-Y88"><circle class="b" cx="572" cy="790" r="10"/><text class="tb" x="572" y="790">Y88</text></g>
<g id="n-Y610"><circle class="b" cx="453" cy="831" r="10"/><text class="tb" x="453" y="831">Y610</text></g>
<g id="n-Y287"><circle class="b" cx="482" cy="861" r="10"/><text class="tb" x="482" y="861">Y287</text></g>
<g id="n-Y1159"><circle class="b" cx="587" cy="941" r="10"/><text class="tb" x="587" y="941">Y1159</text></g>
<g id="n-Y1328"><circle class="b" cx="623" cy="937" r="10"/><text class="tb" x="623" y="937">Y1328</text></g>
<g id="n-Y1289"><circle class="b" cx="567" cy="960" r="10"/><text class="tb" x="567" y="960">Y1289</text></g>
<g id="n-Y1276"><circle class="b" cx="658" cy="952" r="10"/><text class="tb" x="658" y="952">Y1276</text></g>
<g id="n-Y185-MK12"><circle class="b" cx="118" cy="876" r="10"/><text class="tb" x="118" y="876">Y185</text></g>
<g id="n-Y653"><circle class="b" cx="184" cy="917" r="10"/><text class="tb" x="184" y="917">Y653</text></g>
<g id="n-Y424"><circle class="b" cx="281" cy="1002" r="10"/><text class="tb" x="281" y="1002">Y424</text></g>
<g id="n-Y418"><circle class="b" cx="309" cy="1034" r="10"/><text class="tb" x="309" y="1034">Y418</text></g>
<g id="n-Y425"><circle class="b" cx="348" cy="1023" r="10"/><text class="tb" x="348" y="1023">Y425</text></g>
<g id="n-Y14"><circle class="b" cx="892" cy="799" r="10"/><text class="tb" x="892" y="799">Y14</text></g>
<g id="n-Y15"><circle class="b" cx="1150" cy="481" r="10"/><text class="tb" x="1150" y="481">Y15</text></g>
<g id="n-Y133"><circle class="b" cx="1246" cy="510" r="10"/><text class="tb" x="1246" y="510">Y133</text></g>
<g id="n-Y659-PKP2"><circle class="b" cx="961" cy="854" r="10"/><text class="tb" x="961" y="854">Y659</text></g>
<g id="n-Y168"><circle class="b" cx="986" cy="865" r="10"/><text class="tb" x="986" y="865">Y168</text></g>
<g id="n-Y166"><circle class="b" cx="1016" cy="858" r="10"/><text class="tb" x="1016" y="858">Y166</text></g>
<g id="n-Y279"><circle class="b" cx="1051" cy="983" r="10"/><text class="tb" x="1051" y="983">Y279</text></g>
</g>
</svg>
